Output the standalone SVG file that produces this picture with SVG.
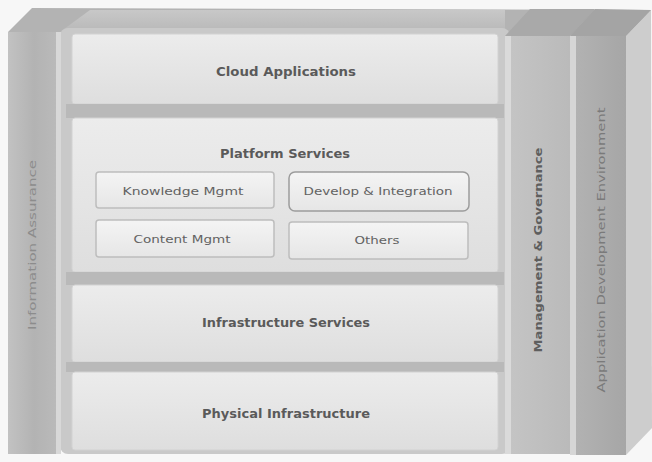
<svg xmlns="http://www.w3.org/2000/svg" width="652" height="462" viewBox="0 0 652 462">
  <defs>
    <style>
      .title { font-family: "DejaVu Sans", Verdana, sans-serif; font-weight: bold; font-size: 11.5px; fill: #5a5a5a; text-anchor: middle; }
      .sub { font-family: "DejaVu Sans", Verdana, sans-serif; font-size: 11px; fill: #626262; text-anchor: middle; }
      .vert { font-family: "DejaVu Sans", Verdana, sans-serif; font-weight: bold; font-size: 11px; text-anchor: middle; }
      .faint { font-family: "DejaVu Sans", Verdana, sans-serif; font-size: 10.5px; text-anchor: middle; }
      .panel { fill: url(#panelGrad); stroke: #d2d2d2; stroke-width: 1; }
      .band { fill: #b9b9b9; }
      .box { fill: url(#boxGrad); stroke: #bdbdbd; stroke-width: 1.5; }
    </style>
    <linearGradient id="panelGrad" x1="0" y1="0" x2="0" y2="1">
      <stop offset="0" stop-color="#ececec"/>
      <stop offset="1" stop-color="#dedede"/>
    </linearGradient>
    <linearGradient id="boxGrad" x1="0" y1="0" x2="0" y2="1">
      <stop offset="0" stop-color="#f4f4f4"/>
      <stop offset="1" stop-color="#e6e6e6"/>
    </linearGradient>
    <linearGradient id="leftBar" x1="0" y1="0" x2="1" y2="0">
      <stop offset="0" stop-color="#c2c2c2"/>
      <stop offset="0.5" stop-color="#b3b3b3"/>
      <stop offset="1" stop-color="#bbbbbb"/>
    </linearGradient>
    <linearGradient id="mgBar" x1="0" y1="0" x2="1" y2="0">
      <stop offset="0" stop-color="#c4c4c4"/>
      <stop offset="1" stop-color="#bababa"/>
    </linearGradient>
    <linearGradient id="adBar" x1="0" y1="0" x2="1" y2="0">
      <stop offset="0" stop-color="#b2b2b2"/>
      <stop offset="1" stop-color="#a6a6a6"/>
    </linearGradient>
    <linearGradient id="lidGrad" x1="0" y1="0" x2="0" y2="1">
      <stop offset="0" stop-color="#c8c8c8"/>
      <stop offset="1" stop-color="#b8b8b8"/>
    </linearGradient>
  </defs>

  <rect x="0" y="0" width="652" height="462" fill="#f7f7f7"/>

  <!-- top lid -->
  <polygon points="8,32 32,8 651,10 626,36" fill="#b3b3b3"/>
  <polygon points="60,32 90,10 505,10 505,32" fill="url(#lidGrad)"/>

  <!-- right side face -->
  <polygon points="626,36 651,10 652,428 626,455" fill="#cdcdcd"/>

  <!-- main frame -->
  <rect x="60" y="28" width="450" height="426" rx="8" fill="#c9c9c9"/>

  <g id="information-assurance">
    <rect x="8" y="32" width="52" height="422" fill="url(#leftBar)"/>
    <rect x="56" y="32" width="5" height="422" fill="#d8d8d8"/>
    <text class="faint" transform="translate(36,245) rotate(-90)" fill="#8c8c8c" textLength="170" lengthAdjust="spacingAndGlyphs">Information Assurance</text>
  </g>

  <g id="cloud-applications">
    <rect class="panel" x="72" y="34" width="426" height="70" rx="3"/>
    <text class="title" x="286" y="76" textLength="140" lengthAdjust="spacingAndGlyphs">Cloud Applications</text>
  </g>
  <rect class="band" x="66" y="104" width="438" height="14"/>

  <g id="platform-services">
    <rect class="panel" x="72" y="118" width="426" height="154" rx="3"/>
    <text class="title" x="285" y="158" textLength="130" lengthAdjust="spacingAndGlyphs">Platform Services</text>
  </g>

  <g id="knowledge-mgmt">
    <rect class="box" x="96" y="172" width="178" height="36" rx="3"/>
    <text class="sub" x="183" y="195" textLength="121" lengthAdjust="spacingAndGlyphs">Knowledge Mgmt</text>
  </g>
  <g id="develop-integration">
    <rect class="box" x="289" y="172" width="180" height="39" rx="6" style="stroke:#9c9c9c"/>
    <text class="sub" x="378" y="195" textLength="149" lengthAdjust="spacingAndGlyphs">Develop &amp; Integration</text>
  </g>
  <g id="content-mgmt">
    <rect class="box" x="96" y="220" width="178" height="37" rx="3"/>
    <text class="sub" x="182" y="243" textLength="97" lengthAdjust="spacingAndGlyphs">Content Mgmt</text>
  </g>
  <g id="others">
    <rect class="box" x="289" y="222" width="179" height="37" rx="3"/>
    <text class="sub" x="377" y="244" textLength="45" lengthAdjust="spacingAndGlyphs">Others</text>
  </g>

  <rect class="band" x="66" y="272" width="438" height="13"/>

  <g id="infrastructure-services">
    <rect class="panel" x="72" y="285" width="426" height="77" rx="3"/>
    <text class="title" x="286" y="327" textLength="168" lengthAdjust="spacingAndGlyphs">Infrastructure Services</text>
  </g>
  <rect class="band" x="66" y="362" width="438" height="10"/>

  <g id="physical-infrastructure">
    <rect class="panel" x="72" y="372" width="426" height="78" rx="3"/>
    <text class="title" x="286" y="418" textLength="168" lengthAdjust="spacingAndGlyphs">Physical Infrastructure</text>
  </g>

  <g id="management-governance">
    <polygon points="505,36 530,9 595,9 570,36" fill="#a9a9a9"/>
    <rect x="505" y="36" width="6" height="418" fill="#dadada"/>
    <rect x="511" y="36" width="59" height="418" fill="url(#mgBar)"/>
    <text class="vert" transform="translate(542,250) rotate(-90)" fill="#5e5e5e" textLength="205" lengthAdjust="spacingAndGlyphs">Management &amp; Governance</text>
  </g>

  <g id="application-development-environment">
    <polygon points="570,36 595,9 651,10 626,36" fill="#a4a4a4"/>
    <rect x="570" y="36" width="6" height="419" fill="#d6d6d6"/>
    <rect x="576" y="36" width="50" height="419" fill="url(#adBar)"/>
    <text class="faint" transform="translate(605,250) rotate(-90)" fill="#7a7a7a" textLength="285" lengthAdjust="spacingAndGlyphs">Application Development Environment</text>
  </g>

  <g id="connectors"/>
</svg>
